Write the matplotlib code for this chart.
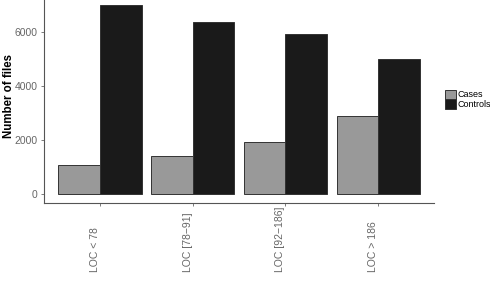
import matplotlib
matplotlib.use("Agg")
import matplotlib.pyplot as plt
import numpy as np

plt.rcParams['font.family'] = ['Liberation Sans', 'DejaVu Sans']

categories = ["LOC < 78", "LOC [78\u221291]", "LOC [92\u2212186]", "LOC > 186"]
cases = [1070, 1400, 1920, 2890]
controls = [7000, 6370, 5930, 4980]

x = np.arange(len(categories))
w = 0.45

fig = plt.figure(figsize=(4.9, 2.82), dpi=100)
ax = fig.add_axes([44/490, 1 - 203/282, 390/490, (203 + 4.4)/282])

ax.bar(x - w/2, cases, w, color="#999999", edgecolor="#333333", linewidth=0.7, label="Cases")
ax.bar(x + w/2, controls, w, color="#1a1a1a", edgecolor="#333333", linewidth=0.7, label="Controls")

ax.set_xlim(-0.6, 3.6)
ax.set_ylim(-350, 7350)
ax.set_xticks(x)
ax.set_xticklabels(categories, rotation=90, fontsize=7.5, color="#666666",
                   ha="right", va="bottom")
ax.set_yticks([0, 2000, 4000, 6000])
ax.tick_params(axis="y", labelsize=7.5, labelcolor="#666666", colors="#666666", length=2.5, width=0.6, pad=2)
# labels sit with their bottoms aligned well below the axis
ax.tick_params(axis="x", colors="#666666", length=2.5, width=0.6, pad=47)
ax.set_ylabel("Number of files", fontsize=8.3, fontweight="bold")
ax.yaxis.set_label_coords(-0.0735, 0.518)

for s in ["top", "right"]:
    ax.spines[s].set_visible(False)
for s in ["left", "bottom"]:
    ax.spines[s].set_color("#555555")
    ax.spines[s].set_linewidth(0.8)

ax.legend(loc="center left", bbox_to_anchor=(1.028, 0.5), frameon=False, fontsize=6.5,
          handlelength=1.2, handleheight=1.2, handletextpad=0.15, labelspacing=0.0,
          borderpad=0.0, borderaxespad=0.0)

fig.savefig("out.png", dpi=100)
